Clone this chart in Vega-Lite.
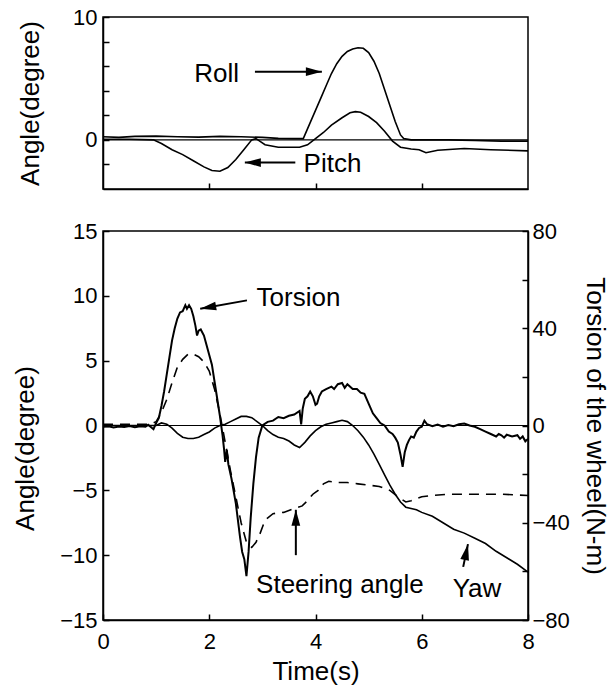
{
  "$schema": "https://vega.github.io/schema/vega-lite/v6.json",
  "padding": {"left": 11, "top": 5, "right": 1, "bottom": 2},
  "spacing": 28,
  "config": {
    "font": "Liberation Sans",
    "view": {"stroke": "black", "strokeWidth": 1.5},
    "axis": {
      "grid": false,
      "labelOverlap": false,
      "labelFlush": false,
      "domainColor": "black", "domainWidth": 1.5,
      "tickColor": "black", "tickWidth": 1.5, "tickSize": -6,
      "labelColor": "black", "labelFontSize": 22, "labelFont": "Liberation Sans", "labelPadding": 12,
      "titleColor": "black", "titleFontSize": 26, "titleFont": "Liberation Sans", "titleFontWeight": "normal"
    }
  },
  "datasets": {
    "top": [
      {"t":0,"v":0.25,"s":"roll"},{"t":0.3,"v":0.2,"s":"roll"},{"t":0.6,"v":0.28,"s":"roll"},{"t":1.0,"v":0.3,"s":"roll"},{"t":1.4,"v":0.25,"s":"roll"},{"t":1.8,"v":0.22,"s":"roll"},{"t":2.2,"v":0.28,"s":"roll"},{"t":2.6,"v":0.25,"s":"roll"},{"t":3.0,"v":0.2,"s":"roll"},{"t":3.3,"v":0.12,"s":"roll"},{"t":3.6,"v":0.1,"s":"roll"},{"t":3.77,"v":0.1,"s":"roll"},{"t":3.9,"v":1.4,"s":"roll"},{"t":4.0,"v":2.4,"s":"roll"},{"t":4.1,"v":3.4,"s":"roll"},{"t":4.2,"v":4.4,"s":"roll"},{"t":4.3,"v":5.4,"s":"roll"},{"t":4.4,"v":6.2,"s":"roll"},{"t":4.5,"v":6.8,"s":"roll"},{"t":4.6,"v":7.2,"s":"roll"},{"t":4.7,"v":7.4,"s":"roll"},{"t":4.8,"v":7.5,"s":"roll"},{"t":4.9,"v":7.45,"s":"roll"},{"t":5.0,"v":7.1,"s":"roll"},{"t":5.1,"v":6.4,"s":"roll"},{"t":5.2,"v":5.4,"s":"roll"},{"t":5.3,"v":4.1,"s":"roll"},{"t":5.4,"v":2.8,"s":"roll"},{"t":5.5,"v":1.5,"s":"roll"},{"t":5.6,"v":0.4,"s":"roll"},{"t":5.66,"v":0.1,"s":"roll"},{"t":5.8,"v":0.0,"s":"roll"},{"t":6.5,"v":0.0,"s":"roll"},{"t":7.0,"v":-0.05,"s":"roll"},{"t":7.5,"v":-0.1,"s":"roll"},{"t":8.0,"v":-0.1,"s":"roll"},
      {"t":0,"v":0.05,"s":"pitch"},{"t":0.5,"v":0.05,"s":"pitch"},{"t":0.95,"v":0.0,"s":"pitch"},{"t":1.1,"v":-0.3,"s":"pitch"},{"t":1.3,"v":-0.8,"s":"pitch"},{"t":1.5,"v":-1.2,"s":"pitch"},{"t":1.7,"v":-1.7,"s":"pitch"},{"t":1.9,"v":-2.2,"s":"pitch"},{"t":2.05,"v":-2.5,"s":"pitch"},{"t":2.2,"v":-2.55,"s":"pitch"},{"t":2.35,"v":-2.25,"s":"pitch"},{"t":2.5,"v":-1.6,"s":"pitch"},{"t":2.65,"v":-0.8,"s":"pitch"},{"t":2.8,"v":0.0,"s":"pitch"},{"t":2.88,"v":0.1,"s":"pitch"},{"t":2.95,"v":-0.1,"s":"pitch"},{"t":3.05,"v":-0.4,"s":"pitch"},{"t":3.3,"v":-0.6,"s":"pitch"},{"t":3.7,"v":-0.6,"s":"pitch"},{"t":3.85,"v":-0.4,"s":"pitch"},{"t":4.0,"v":0.1,"s":"pitch"},{"t":4.15,"v":0.6,"s":"pitch"},{"t":4.3,"v":1.2,"s":"pitch"},{"t":4.5,"v":1.8,"s":"pitch"},{"t":4.65,"v":2.2,"s":"pitch"},{"t":4.75,"v":2.3,"s":"pitch"},{"t":4.85,"v":2.25,"s":"pitch"},{"t":5.0,"v":1.9,"s":"pitch"},{"t":5.15,"v":1.4,"s":"pitch"},{"t":5.3,"v":0.7,"s":"pitch"},{"t":5.45,"v":-0.1,"s":"pitch"},{"t":5.6,"v":-0.6,"s":"pitch"},{"t":5.8,"v":-0.75,"s":"pitch"},{"t":5.95,"v":-0.8,"s":"pitch"},{"t":6.08,"v":-1.05,"s":"pitch"},{"t":6.3,"v":-0.85,"s":"pitch"},{"t":6.8,"v":-0.7,"s":"pitch"},{"t":7.3,"v":-0.8,"s":"pitch"},{"t":8.0,"v":-0.9,"s":"pitch"}
    ],
    "topText": [
      {"t":2.14,"v":5.4,"label":"Roll"},
      {"t":4.32,"v":-1.95,"label":"Pitch"}
    ],
    "topArrows": [
      {"name":"roll","t":2.86,"v":5.55,"t2":4.12,"v2":5.55},
      {"name":"pitch","t":3.62,"v":-1.85,"t2":2.67,"v2":-1.85}
    ],
    "zero": [{"z": 0}],
    "ang": [
      {"t":0,"v":0,"s":"yaw"},{"t":1.0,"v":0,"s":"yaw"},{"t":1.1,"v":0.2,"s":"yaw"},{"t":1.2,"v":0.1,"s":"yaw"},{"t":1.3,"v":-0.2,"s":"yaw"},{"t":1.4,"v":-0.6,"s":"yaw"},{"t":1.5,"v":-0.9,"s":"yaw"},{"t":1.6,"v":-1.0,"s":"yaw"},{"t":1.7,"v":-1.0,"s":"yaw"},{"t":1.8,"v":-0.9,"s":"yaw"},{"t":1.9,"v":-0.7,"s":"yaw"},{"t":2.0,"v":-0.5,"s":"yaw"},{"t":2.1,"v":-0.2,"s":"yaw"},{"t":2.2,"v":0.0,"s":"yaw"},{"t":2.3,"v":0.1,"s":"yaw"},{"t":2.4,"v":0.3,"s":"yaw"},{"t":2.5,"v":0.5,"s":"yaw"},{"t":2.6,"v":0.7,"s":"yaw"},{"t":2.7,"v":0.7,"s":"yaw"},{"t":2.8,"v":0.6,"s":"yaw"},{"t":2.9,"v":0.3,"s":"yaw"},{"t":3.0,"v":0.0,"s":"yaw"},{"t":3.1,"v":-0.4,"s":"yaw"},{"t":3.2,"v":-0.7,"s":"yaw"},{"t":3.3,"v":-0.9,"s":"yaw"},{"t":3.4,"v":-1.0,"s":"yaw"},{"t":3.5,"v":-1.2,"s":"yaw"},{"t":3.6,"v":-1.5,"s":"yaw"},{"t":3.7,"v":-1.7,"s":"yaw"},{"t":3.8,"v":-1.3,"s":"yaw"},{"t":3.9,"v":-0.8,"s":"yaw"},{"t":4.0,"v":-0.4,"s":"yaw"},{"t":4.1,"v":-0.1,"s":"yaw"},{"t":4.2,"v":0.1,"s":"yaw"},{"t":4.3,"v":0.2,"s":"yaw"},{"t":4.4,"v":0.3,"s":"yaw"},{"t":4.5,"v":0.4,"s":"yaw"},{"t":4.6,"v":0.3,"s":"yaw"},{"t":4.7,"v":0.0,"s":"yaw"},{"t":4.8,"v":-0.4,"s":"yaw"},{"t":4.9,"v":-0.9,"s":"yaw"},{"t":5.0,"v":-1.5,"s":"yaw"},{"t":5.1,"v":-2.2,"s":"yaw"},{"t":5.2,"v":-3.0,"s":"yaw"},{"t":5.3,"v":-3.8,"s":"yaw"},{"t":5.4,"v":-4.6,"s":"yaw"},{"t":5.5,"v":-5.3,"s":"yaw"},{"t":5.6,"v":-5.9,"s":"yaw"},{"t":5.7,"v":-6.3,"s":"yaw"},{"t":5.8,"v":-6.4,"s":"yaw"},{"t":5.9,"v":-6.5,"s":"yaw"},{"t":6.0,"v":-6.7,"s":"yaw"},{"t":6.2,"v":-7.0,"s":"yaw"},{"t":6.4,"v":-7.5,"s":"yaw"},{"t":6.6,"v":-8.0,"s":"yaw"},{"t":6.8,"v":-8.3,"s":"yaw"},{"t":7.0,"v":-8.7,"s":"yaw"},{"t":7.2,"v":-9.1,"s":"yaw"},{"t":7.4,"v":-9.7,"s":"yaw"},{"t":7.6,"v":-10.2,"s":"yaw"},{"t":7.8,"v":-10.7,"s":"yaw"},{"t":8.0,"v":-11.3,"s":"yaw"},
      {"t":0,"v":0.1,"s":"steer"},{"t":0.5,"v":0.1,"s":"steer"},{"t":0.9,"v":0.1,"s":"steer"},{"t":1.0,"v":0.3,"s":"steer"},{"t":1.1,"v":1.0,"s":"steer"},{"t":1.2,"v":2.0,"s":"steer"},{"t":1.3,"v":3.3,"s":"steer"},{"t":1.4,"v":4.5,"s":"steer"},{"t":1.5,"v":5.1,"s":"steer"},{"t":1.6,"v":5.5,"s":"steer"},{"t":1.7,"v":5.5,"s":"steer"},{"t":1.8,"v":5.3,"s":"steer"},{"t":1.9,"v":4.9,"s":"steer"},{"t":2.0,"v":4.2,"s":"steer"},{"t":2.1,"v":2.8,"s":"steer"},{"t":2.2,"v":0.9,"s":"steer"},{"t":2.3,"v":-1.3,"s":"steer"},{"t":2.4,"v":-3.5,"s":"steer"},{"t":2.5,"v":-5.5,"s":"steer"},{"t":2.6,"v":-7.5,"s":"steer"},{"t":2.7,"v":-9.0,"s":"steer"},{"t":2.8,"v":-9.4,"s":"steer"},{"t":2.88,"v":-9.0,"s":"steer"},{"t":2.95,"v":-8.4,"s":"steer"},{"t":3.05,"v":-7.3,"s":"steer"},{"t":3.2,"v":-6.8,"s":"steer"},{"t":3.4,"v":-6.7,"s":"steer"},{"t":3.6,"v":-6.4,"s":"steer"},{"t":3.75,"v":-6.2,"s":"steer"},{"t":3.85,"v":-5.8,"s":"steer"},{"t":3.95,"v":-5.3,"s":"steer"},{"t":4.05,"v":-5.0,"s":"steer"},{"t":4.15,"v":-4.5,"s":"steer"},{"t":4.25,"v":-4.3,"s":"steer"},{"t":4.4,"v":-4.4,"s":"steer"},{"t":4.6,"v":-4.4,"s":"steer"},{"t":4.8,"v":-4.5,"s":"steer"},{"t":5.0,"v":-4.6,"s":"steer"},{"t":5.2,"v":-4.7,"s":"steer"},{"t":5.4,"v":-5.0,"s":"steer"},{"t":5.55,"v":-5.5,"s":"steer"},{"t":5.7,"v":-5.9,"s":"steer"},{"t":5.8,"v":-5.8,"s":"steer"},{"t":6.0,"v":-5.5,"s":"steer"},{"t":6.2,"v":-5.4,"s":"steer"},{"t":6.5,"v":-5.3,"s":"steer"},{"t":7.0,"v":-5.3,"s":"steer"},{"t":7.5,"v":-5.3,"s":"steer"},{"t":8.0,"v":-5.4,"s":"steer"}
    ],
    "tor": [
      {"t":0,"T":-0.5},{"t":0.1,"T":-0.3},{"t":0.2,"T":-0.8},{"t":0.3,"T":-0.4},{"t":0.4,"T":-0.6},{"t":0.5,"T":-0.2},{"t":0.6,"T":-0.7},{"t":0.7,"T":-0.3},{"t":0.8,"T":-0.5},{"t":0.85,"T":0.3},{"t":0.9,"T":-0.6},{"t":0.95,"T":-1.5},{"t":1.0,"T":1.0},{"t":1.05,"T":3},{"t":1.1,"T":8},{"t":1.15,"T":14},{"t":1.2,"T":21},{"t":1.25,"T":28},{"t":1.3,"T":35},{"t":1.35,"T":40},{"t":1.4,"T":44},{"t":1.45,"T":46.5},{"t":1.5,"T":47},{"t":1.55,"T":49.5},{"t":1.58,"T":48},{"t":1.62,"T":49.5},{"t":1.66,"T":48},{"t":1.7,"T":45},{"t":1.74,"T":41},{"t":1.77,"T":37},{"t":1.8,"T":39},{"t":1.84,"T":39.5},{"t":1.9,"T":37},{"t":1.95,"T":33},{"t":2.0,"T":29},{"t":2.05,"T":25},{"t":2.1,"T":18},{"t":2.15,"T":11},{"t":2.2,"T":4},{"t":2.25,"T":-4},{"t":2.28,"T":-10},{"t":2.3,"T":-15},{"t":2.33,"T":-10},{"t":2.36,"T":-16},{"t":2.42,"T":-22},{"t":2.5,"T":-32},{"t":2.58,"T":-46},{"t":2.62,"T":-52},{"t":2.66,"T":-55},{"t":2.7,"T":-62},{"t":2.74,"T":-52},{"t":2.78,"T":-38},{"t":2.83,"T":-24},{"t":2.88,"T":-13},{"t":2.93,"T":-5},{"t":3.0,"T":0},{"t":3.1,"T":1.5},{"t":3.2,"T":2},{"t":3.3,"T":3.5},{"t":3.4,"T":3},{"t":3.5,"T":4},{"t":3.6,"T":4.5},{"t":3.7,"T":6},{"t":3.73,"T":0.5},{"t":3.76,"T":7},{"t":3.8,"T":11},{"t":3.85,"T":12},{"t":3.9,"T":14},{"t":3.95,"T":12},{"t":4.0,"T":8.5},{"t":4.03,"T":9},{"t":4.07,"T":12},{"t":4.12,"T":14},{"t":4.2,"T":15},{"t":4.3,"T":16},{"t":4.35,"T":15},{"t":4.42,"T":17},{"t":4.5,"T":17.5},{"t":4.55,"T":15.5},{"t":4.6,"T":17},{"t":4.7,"T":15},{"t":4.78,"T":15},{"t":4.85,"T":13.5},{"t":4.92,"T":13},{"t":5.0,"T":9},{"t":5.08,"T":5},{"t":5.15,"T":3},{"t":5.22,"T":1},{"t":5.3,"T":0},{"t":5.38,"T":-2.5},{"t":5.45,"T":-3.5},{"t":5.5,"T":-5},{"t":5.55,"T":-7},{"t":5.6,"T":-12},{"t":5.64,"T":-17},{"t":5.68,"T":-11},{"t":5.72,"T":-8},{"t":5.76,"T":-6},{"t":5.8,"T":-4.5},{"t":5.85,"T":-5},{"t":5.9,"T":-2.5},{"t":5.95,"T":-1},{"t":6.0,"T":-0.5},{"t":6.05,"T":2},{"t":6.1,"T":0.5},{"t":6.2,"T":-0.3},{"t":6.3,"T":0.4},{"t":6.4,"T":-0.5},{"t":6.5,"T":0.2},{"t":6.6,"T":-0.3},{"t":6.7,"T":0.5},{"t":6.8,"T":0.8},{"t":6.9,"T":0},{"t":7.0,"T":-0.5},{"t":7.1,"T":-1.5},{"t":7.2,"T":-2.5},{"t":7.3,"T":-3.5},{"t":7.4,"T":-4.5},{"t":7.45,"T":-3.5},{"t":7.5,"T":-4},{"t":7.55,"T":-5},{"t":7.6,"T":-3.8},{"t":7.7,"T":-4.5},{"t":7.8,"T":-4},{"t":7.85,"T":-5.5},{"t":7.9,"T":-4.5},{"t":7.95,"T":-6.5},{"t":8.0,"T":-5.5}
    ],
    "botText": [
      {"t":3.68,"v":9.8,"label":"Torsion"},
      {"t":4.46,"v":-12.3,"label":"Steering angle"},
      {"t":7.04,"v":-12.6,"label":"Yaw"}
    ],
    "botArrows": [
      {"name":"torsion","t":2.71,"v":9.65,"t2":1.83,"v2":9.0},
      {"name":"steer","t":3.63,"v":-10.0,"t2":3.63,"v2":-6.5},
      {"name":"yaw","t":6.78,"v":-10.9,"t2":6.87,"v2":-9.15}
    ]
  },
  "vconcat": [
    {
      "width": 425,
      "height": 172,
      "resolve": {"axis": {"y": "independent"}},
      "layer": [
        {
          "layer": [
            {
              "data": {"name": "top"},
              "mark": {"type": "line", "color": "black", "strokeWidth": 1.6},
              "encoding": {
                "x": {"field": "t", "type": "quantitative", "scale": {"domain": [0, 8], "nice": false},
                      "axis": {"values": [2, 4, 6], "labels": false, "title": null}},
                "y": {"field": "v", "type": "quantitative", "scale": {"domain": [-4, 10], "nice": false},
                      "axis": {"values": [0, 10], "labelOverlap": false, "title": "Angle(degree)", "titlePadding": 29}},
                "detail": {"field": "s"}
              }
            },
            {
              "data": {"name": "topText"},
              "mark": {"type": "text", "fontSize": 26, "font": "Liberation Sans", "color": "black", "align": "center", "baseline": "middle"},
              "encoding": {
                "x": {"field": "t", "type": "quantitative"},
                "y": {"field": "v", "type": "quantitative"},
                "text": {"field": "label"}
              }
            },
            {
              "data": {"name": "topArrows"},
              "mark": {"type": "rule", "color": "black", "strokeWidth": 2},
              "encoding": {
                "x": {"field": "t", "type": "quantitative"}, "y": {"field": "v", "type": "quantitative"},
                "x2": {"field": "t2"}, "y2": {"field": "v2"}
              }
            },
            {
              "data": {"name": "topArrows"},
              "transform": [{"filter": "datum.name == 'roll'"}],
              "mark": {"type": "point", "shape": "M0,0L-0.55,2L0.55,2Z", "filled": true, "color": "black", "opacity": 1, "size": 256, "angle": 90},
              "encoding": {"x": {"field": "t2", "type": "quantitative"}, "y": {"field": "v2", "type": "quantitative"}}
            },
            {
              "data": {"name": "topArrows"},
              "transform": [{"filter": "datum.name == 'pitch'"}],
              "mark": {"type": "point", "shape": "M0,0L-0.55,2L0.55,2Z", "filled": true, "color": "black", "opacity": 1, "size": 256, "angle": 270},
              "encoding": {"x": {"field": "t2", "type": "quantitative"}, "y": {"field": "v2", "type": "quantitative"}}
            }
          ]
        },
        {
          "data": {"name": "zero"},
          "mark": {"type": "rule", "color": "black", "strokeWidth": 1.2},
          "encoding": {
            "y": {"field": "z", "type": "quantitative",
                  "axis": {"orient": "left", "values": [-2, 2, 4, 6, 8], "labels": false, "domain": false, "title": null}}
          }
        }
      ]
    },
    {
      "width": 425,
      "height": 389,
      "resolve": {"scale": {"y": "independent"}},
      "layer": [
        {
          "layer": [
            {
              "data": {"name": "ang"},
              "transform": [{"filter": "datum.s == 'yaw'"}],
              "mark": {"type": "line", "color": "black", "strokeWidth": 1.6},
              "encoding": {
                "x": {"field": "t", "type": "quantitative", "scale": {"domain": [0, 8], "nice": false},
                      "axis": {"values": [0, 2, 4, 6, 8], "title": "Time(s)", "titlePadding": 6, "labelPadding": 17}},
                "y": {"field": "v", "type": "quantitative", "scale": {"domain": [-15, 15], "nice": false},
                      "axis": {"values": [-15, -10, -5, 0, 5, 10, 15], "labelOverlap": false, "title": "Angle(degree)", "titlePadding": 21, "titleY": 217}}
              }
            },
            {
              "data": {"name": "ang"},
              "transform": [{"filter": "datum.s == 'steer'"}],
              "mark": {"type": "line", "color": "black", "strokeWidth": 1.6, "strokeDash": [10, 7]},
              "encoding": {
                "x": {"field": "t", "type": "quantitative"},
                "y": {"field": "v", "type": "quantitative"}
              }
            },
            {
              "data": {"name": "zero"},
              "mark": {"type": "rule", "color": "black", "strokeWidth": 1.2},
              "encoding": {"y": {"field": "z", "type": "quantitative"}}
            },
            {
              "data": {"name": "botText"},
              "mark": {"type": "text", "fontSize": 26, "font": "Liberation Sans", "color": "black", "align": "center", "baseline": "middle"},
              "encoding": {
                "x": {"field": "t", "type": "quantitative"},
                "y": {"field": "v", "type": "quantitative"},
                "text": {"field": "label"}
              }
            },
            {
              "data": {"name": "botArrows"},
              "mark": {"type": "rule", "color": "black", "strokeWidth": 2},
              "encoding": {
                "x": {"field": "t", "type": "quantitative"}, "y": {"field": "v", "type": "quantitative"},
                "x2": {"field": "t2"}, "y2": {"field": "v2"}
              }
            },
            {
              "data": {"name": "botArrows"},
              "transform": [{"filter": "datum.name == 'torsion'"}],
              "mark": {"type": "point", "shape": "M0,0L-0.55,2L0.55,2Z", "filled": true, "color": "black", "opacity": 1, "size": 256, "angle": 260},
              "encoding": {"x": {"field": "t2", "type": "quantitative"}, "y": {"field": "v2", "type": "quantitative"}}
            },
            {
              "data": {"name": "botArrows"},
              "transform": [{"filter": "datum.name == 'steer'"}],
              "mark": {"type": "point", "shape": "M0,0L-0.55,2L0.55,2Z", "filled": true, "color": "black", "opacity": 1, "size": 256, "angle": 0},
              "encoding": {"x": {"field": "t2", "type": "quantitative"}, "y": {"field": "v2", "type": "quantitative"}}
            },
            {
              "data": {"name": "botArrows"},
              "transform": [{"filter": "datum.name == 'yaw'"}],
              "mark": {"type": "point", "shape": "M0,0L-0.55,2L0.55,2Z", "filled": true, "color": "black", "opacity": 1, "size": 256, "angle": 12},
              "encoding": {"x": {"field": "t2", "type": "quantitative"}, "y": {"field": "v2", "type": "quantitative"}}
            }
          ]
        },
        {
          "data": {"name": "tor"},
          "mark": {"type": "line", "color": "black", "strokeWidth": 2},
          "encoding": {
            "x": {"field": "t", "type": "quantitative"},
            "y": {"field": "T", "type": "quantitative", "scale": {"domain": [-80, 80], "nice": false},
                  "axis": {"orient": "right", "values": [-80, -60, -40, -20, 0, 20, 40, 60, 80],
                           "labelOverlap": false,
                           "labelExpr": "datum.value % 40 == 0 ? datum.label : ''",
                           "labelPadding": 10,
                           "title": "Torsion of the wheel(N-m)", "titlePadding": 12}}
          }
        }
      ]
    }
  ]
}
